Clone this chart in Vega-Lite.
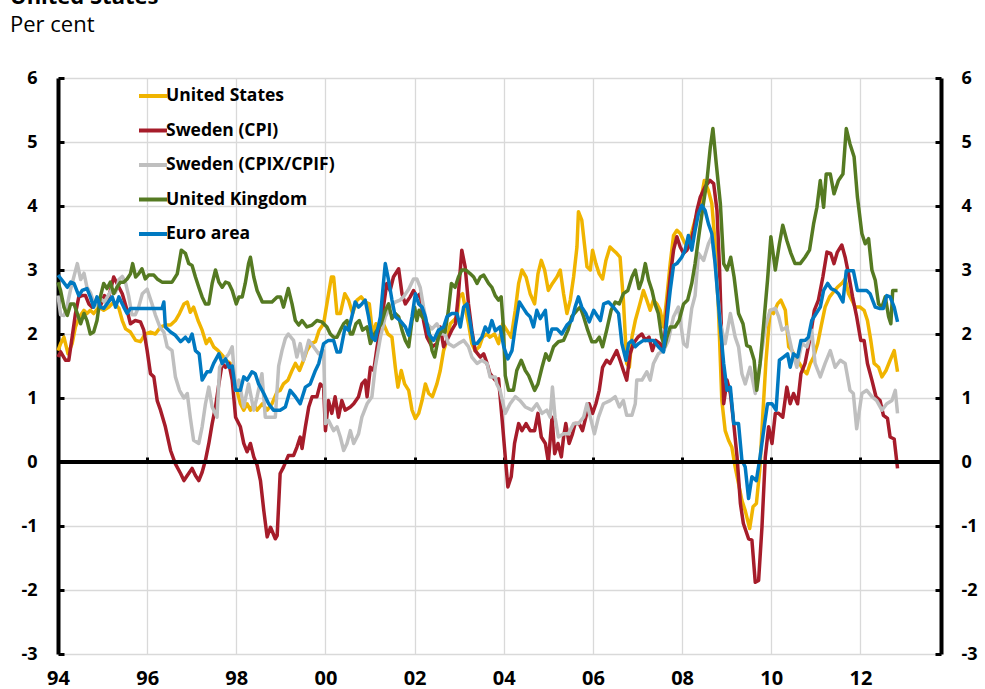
{
  "$schema": "https://vega.github.io/schema/vega-lite/v6.json",
  "autosize": {"type": "none"},
  "width": 883,
  "height": 576,
  "padding": {"left": 58, "top": 78, "right": 44, "bottom": 35},
  "background": "white",
  "config": {"view": {"stroke": null}, "font": "Open Sans"},
  "title": {"text": "United States", "subtitle": "Per cent", "anchor": "start", "frame": "group", "dx": -48, "offset": 32, "font": "Open Sans", "fontSize": 22, "fontWeight": "bold", "color": "#000", "subtitleFont": "Open Sans", "subtitleFontSize": 22, "subtitleColor": "#000", "subtitlePadding": 6},
  "data": {"values": [
{"s":"US","m":0,"v":1.74},{"s":"US","m":0.7,"v":1.85},{"s":"US","m":1.6,"v":1.95},{"s":"US","m":2.7,"v":1.69},{"s":"US","m":3.8,"v":1.85},{"s":"US","m":4.7,"v":2.11},{"s":"US","m":5.8,"v":2.27},{"s":"US","m":7,"v":2.37},{"s":"US","m":7.8,"v":2.32},{"s":"US","m":8.7,"v":2.37},{"s":"US","m":9.6,"v":2.32},{"s":"US","m":11,"v":2.42},{"s":"US","m":12.3,"v":2.37},{"s":"US","m":13.7,"v":2.42},{"s":"US","m":15,"v":2.5},{"s":"US","m":16.4,"v":2.4},{"s":"US","m":17.3,"v":2.21},{"s":"US","m":18.2,"v":2.08},{"s":"US","m":19.5,"v":2.03},{"s":"US","m":20.9,"v":1.9},{"s":"US","m":22.2,"v":1.88},{"s":"US","m":23.5,"v":2.0},{"s":"US","m":24.9,"v":2.03},{"s":"US","m":26.2,"v":2.0},{"s":"US","m":27.6,"v":2.11},{"s":"US","m":29,"v":2.14},{"s":"US","m":30.3,"v":2.14},{"s":"US","m":31.6,"v":2.21},{"s":"US","m":32.7,"v":2.32},{"s":"US","m":33.9,"v":2.47},{"s":"US","m":34.8,"v":2.5},{"s":"US","m":35.6,"v":2.34},{"s":"US","m":36.5,"v":2.42},{"s":"US","m":37.7,"v":2.21},{"s":"US","m":38.8,"v":2.06},{"s":"US","m":39.9,"v":1.85},{"s":"US","m":40.8,"v":1.93},{"s":"US","m":41.9,"v":1.8},{"s":"US","m":43.1,"v":1.74},{"s":"US","m":44.2,"v":1.67},{"s":"US","m":45.2,"v":1.59},{"s":"US","m":46.4,"v":1.54},{"s":"US","m":47.3,"v":1.33},{"s":"US","m":48.2,"v":1.12},{"s":"US","m":49.1,"v":0.91},{"s":"US","m":50,"v":0.81},{"s":"US","m":50.9,"v":0.91},{"s":"US","m":51.8,"v":0.81},{"s":"US","m":52.7,"v":0.91},{"s":"US","m":53.6,"v":0.81},{"s":"US","m":55,"v":0.91},{"s":"US","m":56.3,"v":0.81},{"s":"US","m":57.6,"v":0.91},{"s":"US","m":59,"v":1.1},{"s":"US","m":59.8,"v":1.12},{"s":"US","m":60.7,"v":1.22},{"s":"US","m":61.9,"v":1.28},{"s":"US","m":63,"v":1.43},{"s":"US","m":63.9,"v":1.54},{"s":"US","m":65,"v":1.43},{"s":"US","m":66.1,"v":1.59},{"s":"US","m":67,"v":1.74},{"s":"US","m":68.2,"v":1.85},{"s":"US","m":69.3,"v":1.88},{"s":"US","m":70.3,"v":2.06},{"s":"US","m":71.5,"v":2.16},{"s":"US","m":72.7,"v":2.58},{"s":"US","m":73.6,"v":2.89},{"s":"US","m":74.2,"v":2.89},{"s":"US","m":75.1,"v":2.32},{"s":"US","m":76,"v":2.32},{"s":"US","m":77.2,"v":2.63},{"s":"US","m":78.2,"v":2.53},{"s":"US","m":79.3,"v":2.32},{"s":"US","m":80.5,"v":2.53},{"s":"US","m":81.6,"v":2.58},{"s":"US","m":82.7,"v":2.5},{"s":"US","m":83.8,"v":2.47},{"s":"US","m":84.7,"v":2.0},{"s":"US","m":85.6,"v":2.16},{"s":"US","m":86.5,"v":2.0},{"s":"US","m":87.6,"v":2.16},{"s":"US","m":88.8,"v":2.0},{"s":"US","m":89.9,"v":1.95},{"s":"US","m":90.8,"v":1.48},{"s":"US","m":91.5,"v":1.17},{"s":"US","m":92.4,"v":1.43},{"s":"US","m":93.3,"v":1.22},{"s":"US","m":94.4,"v":1.12},{"s":"US","m":95.3,"v":0.81},{"s":"US","m":96.2,"v":0.68},{"s":"US","m":97.1,"v":0.76},{"s":"US","m":98,"v":0.96},{"s":"US","m":98.9,"v":1.22},{"s":"US","m":99.8,"v":1.07},{"s":"US","m":100.8,"v":1.02},{"s":"US","m":102,"v":1.22},{"s":"US","m":102.9,"v":1.43},{"s":"US","m":103.8,"v":1.74},{"s":"US","m":104.7,"v":1.9},{"s":"US","m":105.6,"v":2.16},{"s":"US","m":106.5,"v":2.21},{"s":"US","m":107.4,"v":2.27},{"s":"US","m":108,"v":2.58},{"s":"US","m":108.9,"v":2.63},{"s":"US","m":109.6,"v":2.42},{"s":"US","m":110.5,"v":2.16},{"s":"US","m":111.4,"v":1.85},{"s":"US","m":112.3,"v":1.74},{"s":"US","m":113.4,"v":1.8},{"s":"US","m":114.3,"v":1.95},{"s":"US","m":115.5,"v":2.0},{"s":"US","m":116.3,"v":1.95},{"s":"US","m":117.5,"v":2.0},{"s":"US","m":118.6,"v":1.85},{"s":"US","m":119.7,"v":2.16},{"s":"US","m":120.8,"v":2.06},{"s":"US","m":122,"v":1.95},{"s":"US","m":123.1,"v":2.37},{"s":"US","m":124,"v":2.79},{"s":"US","m":124.9,"v":3.0},{"s":"US","m":126,"v":2.89},{"s":"US","m":127.1,"v":2.63},{"s":"US","m":128.3,"v":2.47},{"s":"US","m":129.2,"v":2.94},{"s":"US","m":130.1,"v":3.15},{"s":"US","m":131,"v":3.0},{"s":"US","m":132,"v":2.68},{"s":"US","m":133.1,"v":2.79},{"s":"US","m":134.3,"v":2.89},{"s":"US","m":135.2,"v":3.0},{"s":"US","m":136.1,"v":2.63},{"s":"US","m":137,"v":2.32},{"s":"US","m":137.9,"v":2.53},{"s":"US","m":138.8,"v":2.89},{"s":"US","m":139.7,"v":3.36},{"s":"US","m":140.1,"v":3.91},{"s":"US","m":141,"v":3.78},{"s":"US","m":141.7,"v":3.41},{"s":"US","m":142.4,"v":3.05},{"s":"US","m":143.3,"v":3.0},{"s":"US","m":143.9,"v":3.31},{"s":"US","m":144.8,"v":3.1},{"s":"US","m":145.7,"v":2.94},{"s":"US","m":146.6,"v":2.86},{"s":"US","m":147.5,"v":3.15},{"s":"US","m":148.6,"v":3.36},{"s":"US","m":149.5,"v":3.31},{"s":"US","m":150.4,"v":3.26},{"s":"US","m":151.3,"v":3.2},{"s":"US","m":152.2,"v":2.53},{"s":"US","m":153.1,"v":1.54},{"s":"US","m":153.8,"v":1.48},{"s":"US","m":154.5,"v":1.95},{"s":"US","m":155.4,"v":2.21},{"s":"US","m":156.4,"v":2.42},{"s":"US","m":157.6,"v":2.68},{"s":"US","m":158.5,"v":2.53},{"s":"US","m":159.4,"v":2.37},{"s":"US","m":160.3,"v":2.53},{"s":"US","m":161.2,"v":2.47},{"s":"US","m":162.1,"v":2.37},{"s":"US","m":163,"v":2.11},{"s":"US","m":163.9,"v":2.58},{"s":"US","m":164.8,"v":3.1},{"s":"US","m":165.7,"v":3.54},{"s":"US","m":166.6,"v":3.62},{"s":"US","m":167.5,"v":3.57},{"s":"US","m":168.4,"v":3.46},{"s":"US","m":169.3,"v":3.36},{"s":"US","m":170.2,"v":3.5},{"s":"US","m":171.5,"v":3.78},{"s":"US","m":172.9,"v":4.04},{"s":"US","m":174,"v":4.4},{"s":"US","m":175.1,"v":4.24},{"s":"US","m":176,"v":4.04},{"s":"US","m":176.9,"v":3.41},{"s":"US","m":177.8,"v":2.37},{"s":"US","m":178.7,"v":0.96},{"s":"US","m":179.6,"v":0.49},{"s":"US","m":180.5,"v":0.34},{"s":"US","m":181.4,"v":0.23},{"s":"US","m":182.3,"v":-0.08},{"s":"US","m":183.2,"v":-0.34},{"s":"US","m":184.1,"v":-0.6},{"s":"US","m":185,"v":-0.76},{"s":"US","m":186.2,"v":-1.04},{"s":"US","m":187.1,"v":-0.7},{"s":"US","m":188,"v":-0.65},{"s":"US","m":188.9,"v":-0.13},{"s":"US","m":189.8,"v":0.81},{"s":"US","m":190.6,"v":1.59},{"s":"US","m":191.7,"v":2.37},{"s":"US","m":192.6,"v":2.32},{"s":"US","m":193.7,"v":2.47},{"s":"US","m":194.6,"v":2.53},{"s":"US","m":195.8,"v":2.37},{"s":"US","m":196.7,"v":1.8},{"s":"US","m":197.6,"v":1.74},{"s":"US","m":198.5,"v":1.64},{"s":"US","m":199.6,"v":1.54},{"s":"US","m":200.7,"v":1.43},{"s":"US","m":201.6,"v":1.38},{"s":"US","m":202.5,"v":1.54},{"s":"US","m":203.4,"v":1.64},{"s":"US","m":204.5,"v":1.85},{"s":"US","m":205.4,"v":2.11},{"s":"US","m":206.5,"v":2.42},{"s":"US","m":207.7,"v":2.58},{"s":"US","m":208.8,"v":2.66},{"s":"US","m":209.8,"v":2.73},{"s":"US","m":211,"v":2.79},{"s":"US","m":211.9,"v":2.86},{"s":"US","m":212.8,"v":2.63},{"s":"US","m":213.7,"v":2.53},{"s":"US","m":214.6,"v":2.42},{"s":"US","m":215.9,"v":2.42},{"s":"US","m":217,"v":2.37},{"s":"US","m":217.9,"v":2.21},{"s":"US","m":218.8,"v":1.9},{"s":"US","m":219.7,"v":1.54},{"s":"US","m":220.9,"v":1.48},{"s":"US","m":221.8,"v":1.33},{"s":"US","m":222.9,"v":1.43},{"s":"US","m":224,"v":1.59},{"s":"US","m":225.1,"v":1.74},{"s":"US","m":226,"v":1.41},
{"s":"SE","m":0,"v":1.64},{"s":"SE","m":0.7,"v":1.72},{"s":"SE","m":2,"v":1.59},{"s":"SE","m":2.9,"v":1.59},{"s":"SE","m":3.8,"v":1.95},{"s":"SE","m":4.7,"v":2.32},{"s":"SE","m":5.6,"v":2.58},{"s":"SE","m":6.5,"v":2.6},{"s":"SE","m":7.4,"v":2.6},{"s":"SE","m":8.3,"v":2.47},{"s":"SE","m":9.2,"v":2.42},{"s":"SE","m":10.5,"v":2.55},{"s":"SE","m":11.5,"v":2.45},{"s":"SE","m":12.5,"v":2.6},{"s":"SE","m":13.5,"v":2.55},{"s":"SE","m":14.2,"v":2.7},{"s":"SE","m":15,"v":2.89},{"s":"SE","m":15.9,"v":2.79},{"s":"SE","m":17.3,"v":2.63},{"s":"SE","m":18.6,"v":2.37},{"s":"SE","m":19.5,"v":2.16},{"s":"SE","m":20.8,"v":2.21},{"s":"SE","m":22.2,"v":2.19},{"s":"SE","m":23.1,"v":2.06},{"s":"SE","m":24,"v":1.74},{"s":"SE","m":24.9,"v":1.38},{"s":"SE","m":25.8,"v":1.33},{"s":"SE","m":26.7,"v":0.96},{"s":"SE","m":27.6,"v":0.81},{"s":"SE","m":28.9,"v":0.55},{"s":"SE","m":30.3,"v":0.18},{"s":"SE","m":31.6,"v":-0.03},{"s":"SE","m":33,"v":-0.18},{"s":"SE","m":33.9,"v":-0.29},{"s":"SE","m":34.8,"v":-0.21},{"s":"SE","m":36.1,"v":-0.1},{"s":"SE","m":37,"v":-0.21},{"s":"SE","m":37.9,"v":-0.29},{"s":"SE","m":38.8,"v":-0.16},{"s":"SE","m":39.7,"v":0.03},{"s":"SE","m":40.6,"v":0.29},{"s":"SE","m":41.5,"v":0.6},{"s":"SE","m":42.4,"v":0.86},{"s":"SE","m":43.3,"v":1.22},{"s":"SE","m":44.2,"v":1.54},{"s":"SE","m":45.1,"v":1.48},{"s":"SE","m":46,"v":1.54},{"s":"SE","m":46.9,"v":1.28},{"s":"SE","m":47.8,"v":0.7},{"s":"SE","m":49.1,"v":0.55},{"s":"SE","m":50,"v":0.29},{"s":"SE","m":50.9,"v":0.16},{"s":"SE","m":51.8,"v":0.29},{"s":"SE","m":52.7,"v":0.08},{"s":"SE","m":53.6,"v":-0.05},{"s":"SE","m":54.5,"v":-0.29},{"s":"SE","m":55.4,"v":-0.76},{"s":"SE","m":56.3,"v":-1.17},{"s":"SE","m":57.2,"v":-1.02},{"s":"SE","m":58.5,"v":-1.2},{"s":"SE","m":59,"v":-1.15},{"s":"SE","m":59.8,"v":-0.18},{"s":"SE","m":60.7,"v":-0.08},{"s":"SE","m":62,"v":0.1},{"s":"SE","m":63.4,"v":0.1},{"s":"SE","m":64.3,"v":0.23},{"s":"SE","m":65.2,"v":0.39},{"s":"SE","m":65.7,"v":0.21},{"s":"SE","m":66.6,"v":0.55},{"s":"SE","m":67.5,"v":0.86},{"s":"SE","m":68.4,"v":1.02},{"s":"SE","m":69.7,"v":1.02},{"s":"SE","m":70.6,"v":1.22},{"s":"SE","m":71.5,"v":1.17},{"s":"SE","m":72,"v":0.49},{"s":"SE","m":72.8,"v":0.96},{"s":"SE","m":73.7,"v":0.76},{"s":"SE","m":74.6,"v":1.02},{"s":"SE","m":75.5,"v":0.7},{"s":"SE","m":76.4,"v":0.96},{"s":"SE","m":77.3,"v":0.81},{"s":"SE","m":78.7,"v":0.86},{"s":"SE","m":79.6,"v":0.91},{"s":"SE","m":80.9,"v":1.02},{"s":"SE","m":81.8,"v":1.22},{"s":"SE","m":82.7,"v":1.28},{"s":"SE","m":83.2,"v":1.02},{"s":"SE","m":84.1,"v":1.48},{"s":"SE","m":85,"v":1.43},{"s":"SE","m":85.9,"v":1.8},{"s":"SE","m":86.8,"v":2.11},{"s":"SE","m":87.6,"v":2.42},{"s":"SE","m":88.5,"v":2.79},{"s":"SE","m":89.4,"v":2.68},{"s":"SE","m":90.3,"v":2.89},{"s":"SE","m":91.7,"v":3.02},{"s":"SE","m":92.6,"v":2.63},{"s":"SE","m":93.5,"v":2.47},{"s":"SE","m":94.8,"v":2.58},{"s":"SE","m":95.7,"v":2.68},{"s":"SE","m":96.6,"v":2.58},{"s":"SE","m":97.5,"v":2.63},{"s":"SE","m":98.4,"v":2.21},{"s":"SE","m":99.3,"v":1.95},{"s":"SE","m":100.7,"v":1.8},{"s":"SE","m":102,"v":1.85},{"s":"SE","m":102.9,"v":2.11},{"s":"SE","m":103.8,"v":1.8},{"s":"SE","m":105.1,"v":1.95},{"s":"SE","m":106,"v":2.06},{"s":"SE","m":107,"v":2.16},{"s":"SE","m":107.8,"v":2.63},{"s":"SE","m":108.7,"v":3.31},{"s":"SE","m":109.6,"v":3.05},{"s":"SE","m":110.5,"v":2.47},{"s":"SE","m":111.4,"v":2.06},{"s":"SE","m":112.3,"v":1.74},{"s":"SE","m":113.7,"v":1.64},{"s":"SE","m":114.6,"v":1.69},{"s":"SE","m":115.5,"v":1.54},{"s":"SE","m":116.3,"v":1.38},{"s":"SE","m":117.7,"v":1.28},{"s":"SE","m":118.6,"v":1.3},{"s":"SE","m":119.5,"v":0.7},{"s":"SE","m":120.4,"v":0.08},{"s":"SE","m":121.1,"v":-0.39},{"s":"SE","m":122,"v":-0.23},{"s":"SE","m":122.9,"v":0.29},{"s":"SE","m":124,"v":0.6},{"s":"SE","m":124.9,"v":0.49},{"s":"SE","m":126,"v":0.6},{"s":"SE","m":127.1,"v":0.49},{"s":"SE","m":128.3,"v":0.49},{"s":"SE","m":129.2,"v":0.76},{"s":"SE","m":130.1,"v":0.39},{"s":"SE","m":131.2,"v":0.29},{"s":"SE","m":132,"v":0.0},{"s":"SE","m":133,"v":0.7},{"s":"SE","m":133.7,"v":0.13},{"s":"SE","m":134.6,"v":0.29},{"s":"SE","m":135.5,"v":0.08},{"s":"SE","m":136.1,"v":0.39},{"s":"SE","m":136.7,"v":0.6},{"s":"SE","m":137.6,"v":0.29},{"s":"SE","m":138.5,"v":0.44},{"s":"SE","m":139.2,"v":0.6},{"s":"SE","m":140.3,"v":0.6},{"s":"SE","m":141.2,"v":0.49},{"s":"SE","m":142.1,"v":0.7},{"s":"SE","m":143,"v":0.91},{"s":"SE","m":143.9,"v":0.76},{"s":"SE","m":144.8,"v":0.91},{"s":"SE","m":145.7,"v":1.12},{"s":"SE","m":146.6,"v":1.48},{"s":"SE","m":147.7,"v":1.59},{"s":"SE","m":148.6,"v":1.54},{"s":"SE","m":149.5,"v":1.64},{"s":"SE","m":150.4,"v":1.74},{"s":"SE","m":151.3,"v":1.59},{"s":"SE","m":152.2,"v":1.43},{"s":"SE","m":153.1,"v":1.28},{"s":"SE","m":154,"v":1.69},{"s":"SE","m":154.9,"v":1.85},{"s":"SE","m":156.1,"v":1.95},{"s":"SE","m":157.2,"v":2.0},{"s":"SE","m":158.1,"v":1.9},{"s":"SE","m":159.1,"v":1.95},{"s":"SE","m":160,"v":1.74},{"s":"SE","m":160.9,"v":1.9},{"s":"SE","m":162.1,"v":1.85},{"s":"SE","m":163,"v":1.74},{"s":"SE","m":163.9,"v":2.37},{"s":"SE","m":164.8,"v":2.89},{"s":"SE","m":165.7,"v":3.31},{"s":"SE","m":166.6,"v":3.52},{"s":"SE","m":167.5,"v":3.36},{"s":"SE","m":168.4,"v":3.26},{"s":"SE","m":169.3,"v":3.31},{"s":"SE","m":170.2,"v":3.41},{"s":"SE","m":171.1,"v":3.62},{"s":"SE","m":172,"v":3.93},{"s":"SE","m":172.9,"v":4.14},{"s":"SE","m":174.2,"v":4.3},{"s":"SE","m":175.5,"v":4.4},{"s":"SE","m":176.5,"v":4.35},{"s":"SE","m":177.4,"v":3.93},{"s":"SE","m":178.1,"v":3.0},{"s":"SE","m":178.7,"v":1.85},{"s":"SE","m":179.2,"v":0.91},{"s":"SE","m":180.1,"v":1.28},{"s":"SE","m":181,"v":1.07},{"s":"SE","m":181.9,"v":0.6},{"s":"SE","m":182.8,"v":0.08},{"s":"SE","m":183.7,"v":-0.65},{"s":"SE","m":184.5,"v":-0.96},{"s":"SE","m":185.9,"v":-1.2},{"s":"SE","m":186.8,"v":-1.22},{"s":"SE","m":187.7,"v":-1.88},{"s":"SE","m":188.6,"v":-1.85},{"s":"SE","m":189.5,"v":-1.02},{"s":"SE","m":190.4,"v":0.08},{"s":"SE","m":191.3,"v":0.55},{"s":"SE","m":192.2,"v":0.29},{"s":"SE","m":193.1,"v":0.76},{"s":"SE","m":194,"v":0.76},{"s":"SE","m":195.1,"v":0.7},{"s":"SE","m":196.2,"v":1.17},{"s":"SE","m":197.1,"v":0.91},{"s":"SE","m":198,"v":1.07},{"s":"SE","m":199.1,"v":0.91},{"s":"SE","m":200,"v":1.38},{"s":"SE","m":201.1,"v":1.54},{"s":"SE","m":202.5,"v":1.95},{"s":"SE","m":203.6,"v":2.37},{"s":"SE","m":204.7,"v":2.53},{"s":"SE","m":205.9,"v":2.89},{"s":"SE","m":207,"v":3.28},{"s":"SE","m":208,"v":3.26},{"s":"SE","m":208.9,"v":3.1},{"s":"SE","m":209.8,"v":3.28},{"s":"SE","m":211,"v":3.39},{"s":"SE","m":211.9,"v":3.2},{"s":"SE","m":212.8,"v":2.94},{"s":"SE","m":213.9,"v":2.58},{"s":"SE","m":215,"v":2.27},{"s":"SE","m":216.1,"v":1.9},{"s":"SE","m":217,"v":1.9},{"s":"SE","m":217.9,"v":1.54},{"s":"SE","m":219.1,"v":1.28},{"s":"SE","m":220.2,"v":1.02},{"s":"SE","m":221.3,"v":0.96},{"s":"SE","m":222.2,"v":0.73},{"s":"SE","m":223.3,"v":0.68},{"s":"SE","m":224,"v":0.39},{"s":"SE","m":225.1,"v":0.36},{"s":"SE","m":226,"v":-0.1},
{"s":"SX","m":0,"v":2.6},{"s":"SX","m":0.7,"v":2.3},{"s":"SX","m":1.6,"v":2.29},{"s":"SX","m":2.5,"v":2.45},{"s":"SX","m":3.4,"v":2.7},{"s":"SX","m":4.3,"v":2.9},{"s":"SX","m":5.2,"v":3.1},{"s":"SX","m":6.1,"v":2.85},{"s":"SX","m":7,"v":2.95},{"s":"SX","m":7.8,"v":2.73},{"s":"SX","m":8.7,"v":2.65},{"s":"SX","m":9.6,"v":2.5},{"s":"SX","m":10.5,"v":2.45},{"s":"SX","m":11.5,"v":2.55},{"s":"SX","m":12.5,"v":2.5},{"s":"SX","m":13.5,"v":2.6},{"s":"SX","m":14.5,"v":2.7},{"s":"SX","m":15.5,"v":2.65},{"s":"SX","m":16.4,"v":2.85},{"s":"SX","m":17.3,"v":2.9},{"s":"SX","m":18.2,"v":2.8},{"s":"SX","m":19,"v":2.6},{"s":"SX","m":19.9,"v":2.3},{"s":"SX","m":20.8,"v":2.3},{"s":"SX","m":21.7,"v":2.42},{"s":"SX","m":22.7,"v":2.63},{"s":"SX","m":24,"v":2.7},{"s":"SX","m":25.3,"v":2.47},{"s":"SX","m":26.2,"v":2.3},{"s":"SX","m":27.5,"v":2.1},{"s":"SX","m":28.5,"v":2.03},{"s":"SX","m":29.4,"v":1.8},{"s":"SX","m":30.7,"v":1.74},{"s":"SX","m":31.6,"v":1.33},{"s":"SX","m":32.7,"v":1.12},{"s":"SX","m":33.9,"v":1.0},{"s":"SX","m":34.8,"v":1.07},{"s":"SX","m":35.6,"v":0.7},{"s":"SX","m":36.5,"v":0.34},{"s":"SX","m":37.9,"v":0.29},{"s":"SX","m":38.8,"v":0.55},{"s":"SX","m":39.7,"v":0.91},{"s":"SX","m":40.6,"v":1.17},{"s":"SX","m":41.5,"v":0.86},{"s":"SX","m":42.8,"v":0.7},{"s":"SX","m":43.5,"v":1.48},{"s":"SX","m":44.6,"v":1.59},{"s":"SX","m":46,"v":1.69},{"s":"SX","m":46.9,"v":1.8},{"s":"SX","m":47.8,"v":1.12},{"s":"SX","m":48.7,"v":1.28},{"s":"SX","m":50,"v":0.86},{"s":"SX","m":51.3,"v":1.22},{"s":"SX","m":52.7,"v":0.81},{"s":"SX","m":53.6,"v":1.02},{"s":"SX","m":54.9,"v":1.38},{"s":"SX","m":55.8,"v":0.7},{"s":"SX","m":58.5,"v":0.7},{"s":"SX","m":59.4,"v":1.5},{"s":"SX","m":60.3,"v":1.74},{"s":"SX","m":61.2,"v":1.93},{"s":"SX","m":62,"v":2.0},{"s":"SX","m":63.4,"v":1.9},{"s":"SX","m":64.3,"v":1.64},{"s":"SX","m":65.2,"v":1.85},{"s":"SX","m":66.1,"v":1.59},{"s":"SX","m":67.5,"v":1.9},{"s":"SX","m":68.8,"v":1.8},{"s":"SX","m":70.2,"v":1.69},{"s":"SX","m":71.5,"v":1.74},{"s":"SX","m":72,"v":0.6},{"s":"SX","m":72.8,"v":0.65},{"s":"SX","m":74.2,"v":0.49},{"s":"SX","m":75.1,"v":0.55},{"s":"SX","m":76,"v":0.39},{"s":"SX","m":76.9,"v":0.18},{"s":"SX","m":77.8,"v":0.29},{"s":"SX","m":78.7,"v":0.49},{"s":"SX","m":79.6,"v":0.29},{"s":"SX","m":80.9,"v":0.44},{"s":"SX","m":81.8,"v":0.7},{"s":"SX","m":83.2,"v":0.91},{"s":"SX","m":84.5,"v":1.02},{"s":"SX","m":85.4,"v":1.48},{"s":"SX","m":86.8,"v":1.95},{"s":"SX","m":88.1,"v":2.27},{"s":"SX","m":89.4,"v":2.42},{"s":"SX","m":90.8,"v":2.5},{"s":"SX","m":92.1,"v":2.53},{"s":"SX","m":93,"v":2.58},{"s":"SX","m":94.4,"v":2.7},{"s":"SX","m":95.7,"v":2.86},{"s":"SX","m":96.6,"v":2.86},{"s":"SX","m":97.5,"v":2.73},{"s":"SX","m":98.4,"v":2.42},{"s":"SX","m":99.3,"v":2.16},{"s":"SX","m":100.7,"v":2.08},{"s":"SX","m":102,"v":2.16},{"s":"SX","m":103.3,"v":2.0},{"s":"SX","m":104.2,"v":2.0},{"s":"SX","m":105.1,"v":1.85},{"s":"SX","m":106.5,"v":1.8},{"s":"SX","m":107.8,"v":1.85},{"s":"SX","m":109.2,"v":1.9},{"s":"SX","m":110.5,"v":1.8},{"s":"SX","m":111.4,"v":1.64},{"s":"SX","m":112.8,"v":1.54},{"s":"SX","m":114.1,"v":1.59},{"s":"SX","m":115.5,"v":1.54},{"s":"SX","m":116.3,"v":1.33},{"s":"SX","m":117.7,"v":1.33},{"s":"SX","m":118.1,"v":1.22},{"s":"SX","m":119,"v":1.12},{"s":"SX","m":120.4,"v":0.76},{"s":"SX","m":121.7,"v":0.91},{"s":"SX","m":123.1,"v":1.02},{"s":"SX","m":124.4,"v":0.96},{"s":"SX","m":125.8,"v":0.86},{"s":"SX","m":127.6,"v":0.81},{"s":"SX","m":128.9,"v":0.91},{"s":"SX","m":130.3,"v":0.76},{"s":"SX","m":131.6,"v":0.81},{"s":"SX","m":132.5,"v":0.7},{"s":"SX","m":133.1,"v":1.17},{"s":"SX","m":133.8,"v":0.7},{"s":"SX","m":134.7,"v":0.39},{"s":"SX","m":136.1,"v":0.44},{"s":"SX","m":137.4,"v":0.44},{"s":"SX","m":138.8,"v":0.6},{"s":"SX","m":140.1,"v":0.6},{"s":"SX","m":141.5,"v":0.7},{"s":"SX","m":142.4,"v":0.91},{"s":"SX","m":143.3,"v":0.7},{"s":"SX","m":144.4,"v":0.44},{"s":"SX","m":145.5,"v":0.7},{"s":"SX","m":146.8,"v":0.91},{"s":"SX","m":148.6,"v":0.96},{"s":"SX","m":150,"v":1.02},{"s":"SX","m":151.1,"v":0.86},{"s":"SX","m":152.2,"v":0.96},{"s":"SX","m":153.1,"v":0.73},{"s":"SX","m":154.5,"v":0.73},{"s":"SX","m":155.4,"v":0.91},{"s":"SX","m":155.8,"v":1.28},{"s":"SX","m":157.2,"v":1.28},{"s":"SX","m":158.5,"v":1.41},{"s":"SX","m":159.4,"v":1.28},{"s":"SX","m":160.3,"v":1.54},{"s":"SX","m":161.6,"v":1.69},{"s":"SX","m":163,"v":1.74},{"s":"SX","m":164.3,"v":1.9},{"s":"SX","m":165.7,"v":2.27},{"s":"SX","m":167,"v":2.42},{"s":"SX","m":168.4,"v":1.85},{"s":"SX","m":169.3,"v":1.8},{"s":"SX","m":170.6,"v":2.4},{"s":"SX","m":171.5,"v":2.6},{"s":"SX","m":172.4,"v":3.26},{"s":"SX","m":173.8,"v":3.15},{"s":"SX","m":175.1,"v":3.41},{"s":"SX","m":176,"v":3.52},{"s":"SX","m":176.9,"v":3.1},{"s":"SX","m":178.3,"v":2.16},{"s":"SX","m":179.6,"v":1.85},{"s":"SX","m":181,"v":2.32},{"s":"SX","m":182.3,"v":1.95},{"s":"SX","m":183.2,"v":1.8},{"s":"SX","m":184.1,"v":1.38},{"s":"SX","m":185,"v":1.22},{"s":"SX","m":186.3,"v":1.48},{"s":"SX","m":187.7,"v":1.07},{"s":"SX","m":189,"v":1.54},{"s":"SX","m":190.4,"v":2.11},{"s":"SX","m":191.7,"v":2.37},{"s":"SX","m":193.1,"v":2.4},{"s":"SX","m":194,"v":2.27},{"s":"SX","m":194.9,"v":2.06},{"s":"SX","m":196.2,"v":2.11},{"s":"SX","m":197.6,"v":1.74},{"s":"SX","m":198.9,"v":1.48},{"s":"SX","m":200.2,"v":1.85},{"s":"SX","m":201.6,"v":1.8},{"s":"SX","m":202.9,"v":2.06},{"s":"SX","m":203.8,"v":1.54},{"s":"SX","m":205.2,"v":1.33},{"s":"SX","m":206.5,"v":1.54},{"s":"SX","m":207.9,"v":1.74},{"s":"SX","m":209.2,"v":1.48},{"s":"SX","m":210.6,"v":1.59},{"s":"SX","m":211.9,"v":1.54},{"s":"SX","m":213.2,"v":1.12},{"s":"SX","m":214.1,"v":1.07},{"s":"SX","m":215,"v":0.52},{"s":"SX","m":216.4,"v":1.07},{"s":"SX","m":217.7,"v":1.12},{"s":"SX","m":219.1,"v":1.02},{"s":"SX","m":220.4,"v":0.96},{"s":"SX","m":221.8,"v":0.81},{"s":"SX","m":223.1,"v":0.91},{"s":"SX","m":224.5,"v":0.96},{"s":"SX","m":225.4,"v":1.12},{"s":"SX","m":226,"v":0.76},
{"s":"UK","m":0,"v":2.81},{"s":"UK","m":0.7,"v":2.68},{"s":"UK","m":1.6,"v":2.42},{"s":"UK","m":2.5,"v":2.29},{"s":"UK","m":3.4,"v":2.47},{"s":"UK","m":4.3,"v":2.47},{"s":"UK","m":5.2,"v":2.32},{"s":"UK","m":6.1,"v":2.16},{"s":"UK","m":7,"v":2.32},{"s":"UK","m":7.8,"v":2.21},{"s":"UK","m":8.7,"v":2.0},{"s":"UK","m":9.6,"v":2.03},{"s":"UK","m":10.5,"v":2.21},{"s":"UK","m":11.4,"v":2.58},{"s":"UK","m":12.3,"v":2.79},{"s":"UK","m":13.2,"v":2.71},{"s":"UK","m":14.1,"v":2.81},{"s":"UK","m":15,"v":2.63},{"s":"UK","m":15.9,"v":2.73},{"s":"UK","m":16.8,"v":2.81},{"s":"UK","m":17.7,"v":2.81},{"s":"UK","m":18.6,"v":2.86},{"s":"UK","m":19.5,"v":2.94},{"s":"UK","m":20.1,"v":3.1},{"s":"UK","m":20.9,"v":2.89},{"s":"UK","m":21.7,"v":2.94},{"s":"UK","m":22.6,"v":3.02},{"s":"UK","m":23.5,"v":2.86},{"s":"UK","m":24.4,"v":2.92},{"s":"UK","m":25.8,"v":2.92},{"s":"UK","m":26.7,"v":2.86},{"s":"UK","m":28,"v":2.81},{"s":"UK","m":29.4,"v":2.81},{"s":"UK","m":30.7,"v":2.81},{"s":"UK","m":32.1,"v":2.94},{"s":"UK","m":33.2,"v":3.31},{"s":"UK","m":34.3,"v":3.26},{"s":"UK","m":35.2,"v":3.1},{"s":"UK","m":36.1,"v":3.07},{"s":"UK","m":37,"v":2.89},{"s":"UK","m":37.9,"v":2.73},{"s":"UK","m":38.8,"v":2.58},{"s":"UK","m":39.7,"v":2.47},{"s":"UK","m":40.6,"v":2.47},{"s":"UK","m":41.5,"v":2.79},{"s":"UK","m":42.4,"v":3.0},{"s":"UK","m":43.3,"v":2.81},{"s":"UK","m":44.2,"v":2.73},{"s":"UK","m":45.1,"v":2.81},{"s":"UK","m":46,"v":2.79},{"s":"UK","m":46.9,"v":2.68},{"s":"UK","m":48,"v":2.47},{"s":"UK","m":48.7,"v":2.58},{"s":"UK","m":49.6,"v":2.58},{"s":"UK","m":50.4,"v":2.79},{"s":"UK","m":51.3,"v":3.1},{"s":"UK","m":51.8,"v":3.2},{"s":"UK","m":52.7,"v":2.89},{"s":"UK","m":53.6,"v":2.68},{"s":"UK","m":55,"v":2.5},{"s":"UK","m":56.3,"v":2.5},{"s":"UK","m":57.6,"v":2.5},{"s":"UK","m":59,"v":2.58},{"s":"UK","m":59.9,"v":2.58},{"s":"UK","m":60.7,"v":2.42},{"s":"UK","m":62,"v":2.71},{"s":"UK","m":63,"v":2.47},{"s":"UK","m":63.9,"v":2.21},{"s":"UK","m":64.8,"v":2.14},{"s":"UK","m":65.7,"v":2.21},{"s":"UK","m":67,"v":2.11},{"s":"UK","m":68.4,"v":2.14},{"s":"UK","m":69.7,"v":2.21},{"s":"UK","m":71,"v":2.19},{"s":"UK","m":72.4,"v":2.11},{"s":"UK","m":73.3,"v":2.0},{"s":"UK","m":74.2,"v":1.95},{"s":"UK","m":75.1,"v":1.95},{"s":"UK","m":76,"v":2.06},{"s":"UK","m":76.9,"v":2.16},{"s":"UK","m":77.8,"v":2.21},{"s":"UK","m":78.7,"v":2.0},{"s":"UK","m":79.3,"v":2.0},{"s":"UK","m":80.2,"v":2.16},{"s":"UK","m":81.1,"v":2.21},{"s":"UK","m":82,"v":2.06},{"s":"UK","m":83.2,"v":2.11},{"s":"UK","m":84.1,"v":1.85},{"s":"UK","m":85,"v":1.98},{"s":"UK","m":85.9,"v":2.06},{"s":"UK","m":87,"v":2.16},{"s":"UK","m":88.1,"v":2.37},{"s":"UK","m":89,"v":2.47},{"s":"UK","m":89.9,"v":2.24},{"s":"UK","m":90.8,"v":2.32},{"s":"UK","m":91.7,"v":2.27},{"s":"UK","m":92.6,"v":2.06},{"s":"UK","m":93.5,"v":1.9},{"s":"UK","m":94.4,"v":1.8},{"s":"UK","m":95.3,"v":2.21},{"s":"UK","m":96,"v":2.42},{"s":"UK","m":96.6,"v":2.21},{"s":"UK","m":97.2,"v":2.37},{"s":"UK","m":98,"v":2.27},{"s":"UK","m":99,"v":2.21},{"s":"UK","m":99.8,"v":2.06},{"s":"UK","m":100.7,"v":1.74},{"s":"UK","m":101.4,"v":1.64},{"s":"UK","m":102.4,"v":1.95},{"s":"UK","m":103.3,"v":2.06},{"s":"UK","m":104.2,"v":2.03},{"s":"UK","m":105.1,"v":2.37},{"s":"UK","m":105.9,"v":2.79},{"s":"UK","m":106.9,"v":2.73},{"s":"UK","m":107.8,"v":2.89},{"s":"UK","m":108.7,"v":3.0},{"s":"UK","m":109.8,"v":3.0},{"s":"UK","m":111,"v":2.94},{"s":"UK","m":111.9,"v":2.89},{"s":"UK","m":112.8,"v":2.79},{"s":"UK","m":113.7,"v":2.89},{"s":"UK","m":114.6,"v":2.92},{"s":"UK","m":115.9,"v":2.79},{"s":"UK","m":116.8,"v":2.73},{"s":"UK","m":117.7,"v":2.6},{"s":"UK","m":118.6,"v":2.53},{"s":"UK","m":119.3,"v":2.58},{"s":"UK","m":119.9,"v":2.11},{"s":"UK","m":120.4,"v":1.35},{"s":"UK","m":121.3,"v":1.12},{"s":"UK","m":122.6,"v":1.12},{"s":"UK","m":123.5,"v":1.43},{"s":"UK","m":124.7,"v":1.59},{"s":"UK","m":125.8,"v":1.43},{"s":"UK","m":126.7,"v":1.35},{"s":"UK","m":127.6,"v":1.22},{"s":"UK","m":128.3,"v":1.12},{"s":"UK","m":129.2,"v":1.22},{"s":"UK","m":130.3,"v":1.48},{"s":"UK","m":131.3,"v":1.69},{"s":"UK","m":132.2,"v":1.59},{"s":"UK","m":133.4,"v":1.8},{"s":"UK","m":134.7,"v":1.88},{"s":"UK","m":136.1,"v":1.9},{"s":"UK","m":137.3,"v":2.06},{"s":"UK","m":138.3,"v":2.27},{"s":"UK","m":139.7,"v":2.37},{"s":"UK","m":140.6,"v":2.42},{"s":"UK","m":141.5,"v":2.27},{"s":"UK","m":142.6,"v":2.06},{"s":"UK","m":143.7,"v":1.88},{"s":"UK","m":144.8,"v":1.88},{"s":"UK","m":145.7,"v":1.95},{"s":"UK","m":146.6,"v":1.8},{"s":"UK","m":147.7,"v":2.06},{"s":"UK","m":148.9,"v":2.37},{"s":"UK","m":150,"v":2.5},{"s":"UK","m":151.1,"v":2.47},{"s":"UK","m":152.2,"v":2.63},{"s":"UK","m":153.4,"v":2.68},{"s":"UK","m":154.5,"v":2.89},{"s":"UK","m":155.4,"v":3.0},{"s":"UK","m":156.4,"v":2.71},{"s":"UK","m":157.2,"v":2.84},{"s":"UK","m":158.1,"v":3.1},{"s":"UK","m":159,"v":2.84},{"s":"UK","m":159.9,"v":2.68},{"s":"UK","m":160.7,"v":2.47},{"s":"UK","m":161.6,"v":2.32},{"s":"UK","m":162.5,"v":1.95},{"s":"UK","m":163.3,"v":1.8},{"s":"UK","m":163.9,"v":1.95},{"s":"UK","m":164.8,"v":2.11},{"s":"UK","m":166.1,"v":2.11},{"s":"UK","m":167.2,"v":2.21},{"s":"UK","m":168.4,"v":2.47},{"s":"UK","m":169.5,"v":2.53},{"s":"UK","m":170.6,"v":2.79},{"s":"UK","m":171.5,"v":3.1},{"s":"UK","m":172.6,"v":3.57},{"s":"UK","m":173.6,"v":3.98},{"s":"UK","m":174.7,"v":4.4},{"s":"UK","m":175.6,"v":4.92},{"s":"UK","m":176.3,"v":5.21},{"s":"UK","m":177.2,"v":4.66},{"s":"UK","m":178.3,"v":4.04},{"s":"UK","m":179.2,"v":3.1},{"s":"UK","m":180.1,"v":3.0},{"s":"UK","m":181.1,"v":3.2},{"s":"UK","m":182,"v":2.89},{"s":"UK","m":183.2,"v":2.32},{"s":"UK","m":184.4,"v":2.16},{"s":"UK","m":185.4,"v":1.82},{"s":"UK","m":186.3,"v":1.8},{"s":"UK","m":187.4,"v":1.59},{"s":"UK","m":188.1,"v":1.12},{"s":"UK","m":189,"v":1.54},{"s":"UK","m":189.9,"v":2.11},{"s":"UK","m":191,"v":2.84},{"s":"UK","m":191.9,"v":3.52},{"s":"UK","m":193.1,"v":3.0},{"s":"UK","m":194.2,"v":3.41},{"s":"UK","m":195.1,"v":3.7},{"s":"UK","m":196.2,"v":3.46},{"s":"UK","m":197.3,"v":3.26},{"s":"UK","m":198.4,"v":3.1},{"s":"UK","m":199.8,"v":3.1},{"s":"UK","m":201.1,"v":3.2},{"s":"UK","m":202.3,"v":3.31},{"s":"UK","m":203.4,"v":3.72},{"s":"UK","m":204.3,"v":3.98},{"s":"UK","m":205.2,"v":4.4},{"s":"UK","m":206.1,"v":3.98},{"s":"UK","m":206.8,"v":4.5},{"s":"UK","m":207.9,"v":4.5},{"s":"UK","m":208.9,"v":4.19},{"s":"UK","m":210.1,"v":4.4},{"s":"UK","m":211.3,"v":4.5},{"s":"UK","m":212.2,"v":5.21},{"s":"UK","m":213.2,"v":4.97},{"s":"UK","m":214.3,"v":4.77},{"s":"UK","m":215.2,"v":4.14},{"s":"UK","m":216.4,"v":3.57},{"s":"UK","m":217.3,"v":3.41},{"s":"UK","m":218.2,"v":3.49},{"s":"UK","m":219.1,"v":3.0},{"s":"UK","m":220,"v":2.84},{"s":"UK","m":220.9,"v":2.47},{"s":"UK","m":221.8,"v":2.42},{"s":"UK","m":222.7,"v":2.58},{"s":"UK","m":223.6,"v":2.27},{"s":"UK","m":224.2,"v":2.16},{"s":"UK","m":224.7,"v":2.68},{"s":"UK","m":225.6,"v":2.68},{"s":"UK","m":226,"v":2.68},
{"s":"EA","m":0,"v":2.92},{"s":"EA","m":1.1,"v":2.84},{"s":"EA","m":2.5,"v":2.73},{"s":"EA","m":3.4,"v":2.81},{"s":"EA","m":4.3,"v":2.79},{"s":"EA","m":5.6,"v":2.6},{"s":"EA","m":6.5,"v":2.68},{"s":"EA","m":7.8,"v":2.71},{"s":"EA","m":8.7,"v":2.58},{"s":"EA","m":9.6,"v":2.42},{"s":"EA","m":10.5,"v":2.58},{"s":"EA","m":11.4,"v":2.42},{"s":"EA","m":12.3,"v":2.4},{"s":"EA","m":13.2,"v":2.47},{"s":"EA","m":14.6,"v":2.58},{"s":"EA","m":15.5,"v":2.42},{"s":"EA","m":16.4,"v":2.58},{"s":"EA","m":17.7,"v":2.42},{"s":"EA","m":18.6,"v":2.32},{"s":"EA","m":19.5,"v":2.4},{"s":"EA","m":28,"v":2.4},{"s":"EA","m":28.5,"v":2.5},{"s":"EA","m":28.9,"v":2.11},{"s":"EA","m":30.3,"v":2.03},{"s":"EA","m":31.6,"v":1.98},{"s":"EA","m":33,"v":1.88},{"s":"EA","m":34.3,"v":1.95},{"s":"EA","m":35.2,"v":1.88},{"s":"EA","m":36.1,"v":2.0},{"s":"EA","m":37,"v":1.74},{"s":"EA","m":38,"v":1.69},{"s":"EA","m":38.8,"v":1.28},{"s":"EA","m":40.1,"v":1.41},{"s":"EA","m":41,"v":1.41},{"s":"EA","m":41.9,"v":1.54},{"s":"EA","m":43.3,"v":1.69},{"s":"EA","m":44.2,"v":1.54},{"s":"EA","m":45.1,"v":1.61},{"s":"EA","m":46,"v":1.48},{"s":"EA","m":46.9,"v":1.5},{"s":"EA","m":47.8,"v":1.12},{"s":"EA","m":49.1,"v":1.12},{"s":"EA","m":50,"v":1.33},{"s":"EA","m":50.9,"v":1.28},{"s":"EA","m":52.2,"v":1.41},{"s":"EA","m":53.1,"v":1.38},{"s":"EA","m":54,"v":1.22},{"s":"EA","m":55.4,"v":1.07},{"s":"EA","m":56.7,"v":0.91},{"s":"EA","m":58,"v":0.81},{"s":"EA","m":59.8,"v":0.81},{"s":"EA","m":61.2,"v":0.86},{"s":"EA","m":62.5,"v":1.12},{"s":"EA","m":63.9,"v":1.02},{"s":"EA","m":65.2,"v":0.91},{"s":"EA","m":66.6,"v":1.17},{"s":"EA","m":67.9,"v":1.22},{"s":"EA","m":69.3,"v":1.43},{"s":"EA","m":70.2,"v":1.54},{"s":"EA","m":71.5,"v":1.85},{"s":"EA","m":72.8,"v":1.9},{"s":"EA","m":74.2,"v":1.9},{"s":"EA","m":75.1,"v":1.72},{"s":"EA","m":76,"v":1.72},{"s":"EA","m":77.3,"v":2.11},{"s":"EA","m":78.2,"v":2.06},{"s":"EA","m":79.1,"v":2.27},{"s":"EA","m":80,"v":2.5},{"s":"EA","m":80.9,"v":2.42},{"s":"EA","m":81.8,"v":2.47},{"s":"EA","m":82.7,"v":2.53},{"s":"EA","m":83.6,"v":2.27},{"s":"EA","m":84.5,"v":1.95},{"s":"EA","m":85.4,"v":1.9},{"s":"EA","m":86.8,"v":2.27},{"s":"EA","m":87.6,"v":2.79},{"s":"EA","m":88.1,"v":3.1},{"s":"EA","m":89,"v":2.84},{"s":"EA","m":89.9,"v":2.53},{"s":"EA","m":90.8,"v":2.27},{"s":"EA","m":92.1,"v":2.21},{"s":"EA","m":93.5,"v":2.11},{"s":"EA","m":94.4,"v":1.98},{"s":"EA","m":95.3,"v":2.27},{"s":"EA","m":96.2,"v":2.63},{"s":"EA","m":97.1,"v":2.47},{"s":"EA","m":98,"v":2.42},{"s":"EA","m":98.9,"v":2.27},{"s":"EA","m":99.8,"v":2.0},{"s":"EA","m":101.1,"v":1.9},{"s":"EA","m":102.4,"v":2.06},{"s":"EA","m":103.8,"v":2.11},{"s":"EA","m":104.7,"v":2.27},{"s":"EA","m":106,"v":2.32},{"s":"EA","m":107.4,"v":2.32},{"s":"EA","m":108.3,"v":2.11},{"s":"EA","m":109.2,"v":2.42},{"s":"EA","m":110.1,"v":2.47},{"s":"EA","m":111,"v":2.16},{"s":"EA","m":111.9,"v":1.85},{"s":"EA","m":112.8,"v":1.85},{"s":"EA","m":114.1,"v":1.95},{"s":"EA","m":115,"v":2.11},{"s":"EA","m":115.9,"v":2.03},{"s":"EA","m":116.8,"v":2.21},{"s":"EA","m":117.7,"v":2.05},{"s":"EA","m":119,"v":2.11},{"s":"EA","m":120,"v":1.8},{"s":"EA","m":121.1,"v":1.61},{"s":"EA","m":122.2,"v":1.74},{"s":"EA","m":123.1,"v":2.11},{"s":"EA","m":124.2,"v":2.5},{"s":"EA","m":125.3,"v":2.4},{"s":"EA","m":126.2,"v":2.32},{"s":"EA","m":127.1,"v":2.27},{"s":"EA","m":128,"v":2.11},{"s":"EA","m":128.9,"v":2.37},{"s":"EA","m":129.8,"v":2.24},{"s":"EA","m":131.2,"v":2.37},{"s":"EA","m":132,"v":1.9},{"s":"EA","m":133,"v":2.08},{"s":"EA","m":134.3,"v":2.08},{"s":"EA","m":135.6,"v":2.0},{"s":"EA","m":137,"v":2.14},{"s":"EA","m":138.3,"v":2.21},{"s":"EA","m":139.2,"v":2.42},{"s":"EA","m":140.1,"v":2.58},{"s":"EA","m":141,"v":2.42},{"s":"EA","m":142.1,"v":2.32},{"s":"EA","m":143,"v":2.19},{"s":"EA","m":144.2,"v":2.37},{"s":"EA","m":145.1,"v":2.29},{"s":"EA","m":146,"v":2.21},{"s":"EA","m":146.9,"v":2.47},{"s":"EA","m":148.2,"v":2.5},{"s":"EA","m":149.5,"v":2.42},{"s":"EA","m":150.9,"v":2.32},{"s":"EA","m":151.8,"v":1.85},{"s":"EA","m":152.9,"v":1.59},{"s":"EA","m":153.6,"v":1.85},{"s":"EA","m":154.5,"v":1.9},{"s":"EA","m":155.4,"v":1.8},{"s":"EA","m":156.3,"v":1.85},{"s":"EA","m":157.6,"v":1.9},{"s":"EA","m":159,"v":1.9},{"s":"EA","m":160.3,"v":1.9},{"s":"EA","m":161.6,"v":1.8},{"s":"EA","m":163,"v":1.72},{"s":"EA","m":163.9,"v":2.21},{"s":"EA","m":164.8,"v":2.68},{"s":"EA","m":165.7,"v":3.07},{"s":"EA","m":166.6,"v":3.1},{"s":"EA","m":167.9,"v":3.2},{"s":"EA","m":168.8,"v":3.31},{"s":"EA","m":169.7,"v":3.54},{"s":"EA","m":170.6,"v":3.31},{"s":"EA","m":171.5,"v":3.62},{"s":"EA","m":172.4,"v":3.88},{"s":"EA","m":173.3,"v":4.01},{"s":"EA","m":174.2,"v":3.93},{"s":"EA","m":175.1,"v":3.72},{"s":"EA","m":176,"v":3.57},{"s":"EA","m":176.9,"v":3.1},{"s":"EA","m":177.6,"v":2.6},{"s":"EA","m":178.3,"v":2.11},{"s":"EA","m":179.2,"v":1.54},{"s":"EA","m":180.1,"v":1.12},{"s":"EA","m":181,"v":1.17},{"s":"EA","m":181.9,"v":0.6},{"s":"EA","m":183.2,"v":0.6},{"s":"EA","m":184.1,"v":0.03},{"s":"EA","m":185,"v":-0.08},{"s":"EA","m":185.9,"v":-0.57},{"s":"EA","m":186.8,"v":-0.23},{"s":"EA","m":188,"v":-0.29},{"s":"EA","m":189,"v":0.08},{"s":"EA","m":190.1,"v":0.55},{"s":"EA","m":191,"v":0.91},{"s":"EA","m":192.2,"v":0.91},{"s":"EA","m":193.3,"v":0.81},{"s":"EA","m":194.2,"v":1.59},{"s":"EA","m":195.3,"v":1.64},{"s":"EA","m":196.4,"v":1.69},{"s":"EA","m":197.1,"v":1.48},{"s":"EA","m":198,"v":1.69},{"s":"EA","m":199.1,"v":1.64},{"s":"EA","m":200,"v":1.9},{"s":"EA","m":201.1,"v":1.9},{"s":"EA","m":202,"v":1.95},{"s":"EA","m":202.9,"v":2.21},{"s":"EA","m":204.1,"v":2.32},{"s":"EA","m":205.2,"v":2.42},{"s":"EA","m":206.1,"v":2.68},{"s":"EA","m":207.2,"v":2.79},{"s":"EA","m":208.1,"v":2.71},{"s":"EA","m":209.2,"v":2.68},{"s":"EA","m":210.1,"v":2.63},{"s":"EA","m":211.3,"v":2.5},{"s":"EA","m":212.2,"v":2.99},{"s":"EA","m":213.2,"v":2.99},{"s":"EA","m":214.1,"v":2.99},{"s":"EA","m":215.2,"v":2.68},{"s":"EA","m":216.4,"v":2.68},{"s":"EA","m":217.7,"v":2.68},{"s":"EA","m":218.6,"v":2.63},{"s":"EA","m":220,"v":2.42},{"s":"EA","m":221.1,"v":2.4},{"s":"EA","m":222.2,"v":2.4},{"s":"EA","m":223.1,"v":2.6},{"s":"EA","m":224,"v":2.58},{"s":"EA","m":225.1,"v":2.42},{"s":"EA","m":226,"v":2.19}
  ]},
  "layer": [
    {
      "mark": {"type": "line", "strokeWidth": 3.5, "strokeJoin": "round"},
      "encoding": {
        "x": {"field": "m", "type": "quantitative",
          "scale": {"domain": [0, 237.7], "nice": false, "zero": false},
          "axis": {"orient": "bottom", "values": [0, 24, 48, 72, 96, 120, 144, 168, 192, 216], "grid": true, "gridColor": "#d9d9d9", "gridWidth": 1.3, "domain": false, "ticks": false, "labelFlush": false, "labelExpr": "slice(toString(1994 + datum.value / 12), 2)", "labelFont": "Open Sans", "labelFontSize": 20, "labelFontWeight": "bold", "labelColor": "#000", "labelPadding": 14, "title": null}},
        "y": {"field": "v", "type": "quantitative",
          "scale": {"domain": [-3, 6], "nice": false, "zero": false},
          "axis": {"orient": "left", "values": [-3, -2, -1, 0, 1, 2, 3, 4, 5, 6], "grid": true, "gridColor": "#d9d9d9", "gridWidth": 1.3, "domain": true, "domainColor": "#000", "domainWidth": 4, "ticks": true, "tickColor": "#000", "tickWidth": 3, "tickSize": -6, "labelFlush": false, "labelExpr": "toString(datum.value)", "labelFont": "Open Sans", "labelFontSize": 18, "labelFontWeight": "bold", "labelColor": "#000", "labelPadding": 27, "title": null}},
        "color": {"field": "s", "type": "nominal",
          "scale": {"domain": ["US", "SE", "SX", "UK", "EA"], "range": ["#F0B400", "#A61C2A", "#BFBFBF", "#557A22", "#0079C1"]},
          "legend": {"orient": "none", "legendX": 79, "legendY": 2, "title": null, "symbolType": "stroke", "symbolStrokeWidth": 4, "symbolSize": 784, "labelFont": "Open Sans", "labelFontSize": 17.5, "labelFontWeight": "bold", "labelColor": "#000", "labelLimit": 0, "rowPadding": 9.5, "labelOffset": -3, "labelExpr": "datum.label == 'US' ? 'United States' : datum.label == 'SE' ? 'Sweden (CPI)' : datum.label == 'SX' ? 'Sweden (CPIX/CPIF)' : datum.label == 'UK' ? 'United Kingdom' : 'Euro area'"}}
      }
    },
    {
      "mark": {"type": "rule", "color": "#000", "strokeWidth": 4},
      "encoding": {
        "y": {"datum": 0, "type": "quantitative",
          "axis": {"orient": "right", "values": [-3, -2, -1, 0, 1, 2, 3, 4, 5, 6], "grid": false, "domain": true, "domainColor": "#000", "domainWidth": 4, "ticks": true, "tickColor": "#000", "tickWidth": 3, "tickSize": -6, "labelFlush": false, "labelExpr": "toString(datum.value)", "labelFont": "Open Sans", "labelFontSize": 18, "labelFontWeight": "bold", "labelColor": "#000", "labelPadding": 26, "title": null}},
        "x": {"datum": 0, "type": "quantitative",
          "axis": {"orient": "top", "offset": -384, "values": [24, 48, 72, 96, 120, 144, 168, 192, 216], "grid": false, "domain": false, "labels": false, "ticks": true, "tickColor": "#000", "tickWidth": 3, "tickSize": 5, "title": null}},
        "x2": {"datum": 237.7}
      }
    }
  ],
  "resolve": {"axis": {"x": "independent", "y": "independent"}}
}
